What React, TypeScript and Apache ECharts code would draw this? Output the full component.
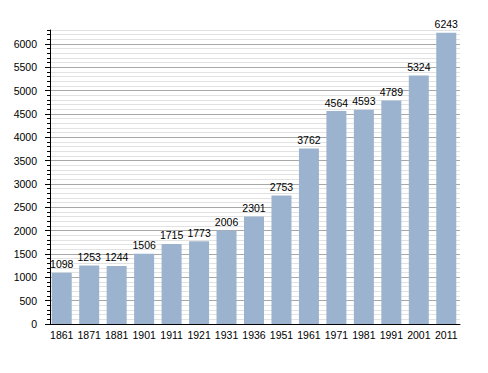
import React, { useEffect, useRef } from "react";
import * as echarts from "echarts";

const years = ["1861", "1871", "1881", "1901", "1911", "1921", "1931", "1936", "1951", "1961", "1971", "1981", "1991", "2001", "2011"];
const population = [1098, 1253, 1244, 1506, 1715, 1773, 2006, 2301, 2753, 3762, 4564, 4593, 4789, 5324, 6243];
const yLabels = [0, 500, 1000, 1500, 2000, 2500, 3000, 3500, 4000, 4500, 5000, 5500, 6000];

export default function App() {
  const ref = useRef<HTMLDivElement>(null);
  useEffect(() => {
    const chart = echarts.init(ref.current!, null, { renderer: "svg" });
    const font = "'Liberation Sans', Arial, sans-serif";
    chart.setOption({
      animation: false,
      grid: { left: 48, right: 28, top: 30, bottom: 49, containLabel: false },
      xAxis: {
        type: "category",
        data: years,
        axisLine: { lineStyle: { color: "#000", width: 1 } },
        axisTick: { show: false },
        axisLabel: { color: "#000", fontSize: 10.5, fontFamily: font, margin: 5, interval: 0 },
      },
      yAxis: [
        {
          type: "value",
          min: 0,
          max: 6300,
          interval: 100,
          offset: -2,
          axisLine: { show: true, lineStyle: { color: "#000", width: 1 } },
          axisTick: { show: true, length: 3, lineStyle: { color: "#000" } },
          axisLabel: {
            color: "#000",
            fontSize: 10.5,
            fontFamily: font,
            margin: 13,
            customValues: yLabels,
            formatter: (v: number) => String(v),
          },
          splitLine: {
            show: true,
            lineStyle: { color: ["#a8a8a8", "#e2e2e2", "#e2e2e2", "#e2e2e2", "#e2e2e2"], width: 1 },
          },
        },
        {
          type: "value",
          min: 0,
          max: 6300,
          position: "left",
          offset: -2,
          axisLine: { show: false },
          axisTick: { show: true, length: 5, customValues: yLabels, lineStyle: { color: "#000" } },
          axisLabel: { show: false },
          splitLine: { show: false },
        },
      ],
      series: [
        {
          type: "bar",
          data: population,
          yAxisIndex: 0,
          barWidth: 20,
          itemStyle: { color: "#9bb3cf" },
          label: {
            show: true,
            position: "top",
            distance: 3,
            color: "#000",
            fontSize: 10.5,
            fontFamily: font,
          },
        },
      ],
    });
    return () => chart.dispose();
  }, []);
  return <div ref={ref} style={{ width: 488, height: 373, position: "absolute", left: 0, top: 0 }} />;
}
